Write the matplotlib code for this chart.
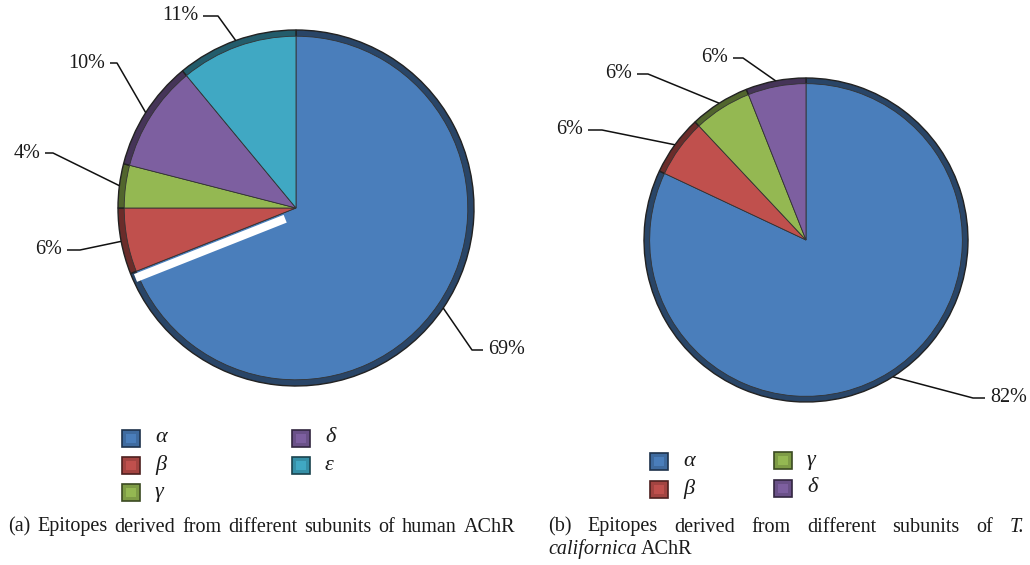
import numpy as np
import matplotlib
matplotlib.use("Agg")
import matplotlib.pyplot as plt
from matplotlib.patches import Rectangle

# epitope shares per subunit (%)
human_labels = ["α", "β", "γ", "δ", "ε"]
human_values = [69, 6, 4, 10, 11]
torpedo_labels = ["α", "β", "γ", "δ"]
torpedo_values = [82, 6, 6, 6]

colors = {"α": "#4a7ebb", "β": "#c0504d", "γ": "#94b852",
          "δ": "#7d5fa0", "ε": "#40a8c3"}

SERIF = "Liberation Serif"

fig = plt.figure(figsize=(10.3, 5.65), dpi=100)
ax = fig.add_axes([0, 0, 1, 1])


def set_frame():
    # pixel-like coordinates, y downwards
    ax.set_xlim(0, 1030)
    ax.set_ylim(565, 0)
    ax.set_aspect("equal", adjustable="box")
    ax.axis("off")


def shade(hexcol, f):
    c = np.array(matplotlib.colors.to_rgb(hexcol))
    return tuple(np.clip(c * f, 0, 1))


def draw_pie(labels, values, center, radius):
    cols = [colors[l] for l in labels]
    # darker rim underneath, then the face
    ax.pie(values, colors=[shade(c, 0.55) for c in cols], startangle=-90,
           counterclock=True, center=center, radius=radius,
           wedgeprops=dict(edgecolor="#222222", linewidth=1.0))
    ax.pie(values, colors=cols, startangle=-90, counterclock=True,
           center=center, radius=radius * 0.965,
           wedgeprops=dict(edgecolor="#333333", linewidth=0.6))
    fr = np.cumsum([0] + list(values)) / float(sum(values))
    mids = -90 + 360 * (fr[:-1] + fr[1:]) / 2
    ends = -90 + 360 * fr[1:]
    return np.radians(mids), np.radians(ends)


def leader(center, radius, phi, elbow, end, text, ha):
    cx, cy = center
    ax_pt = (cx + radius * np.cos(phi), cy + radius * np.sin(phi))
    ax.plot([ax_pt[0], elbow[0], end[0]], [ax_pt[1], elbow[1], end[1]],
            color="#111111", lw=1.1, solid_capstyle="butt")
    tx = end[0] + (5 if ha == "left" else -5)
    ax.text(tx, end[1], text, ha=ha, va="center", family=SERIF,
            fontsize=14.5, color="#1a1a1a")


# (a) human AChR
c1, r1 = (296, 208), 178
mids1, ends1 = draw_pie(human_labels, human_values, c1, r1)
# light strip along the closing edge of the alpha slice
a = ends1[0]
u = np.array([np.cos(a), np.sin(a)])
n = np.array([np.sin(a), -np.cos(a)])
p0 = np.array(c1) + 14 * u + 6 * n
p1 = np.array(c1) + (r1 - 3) * u + 6 * n
ax.plot([p0[0], p1[0]], [p0[1], p1[1]], color="white", lw=6,
        solid_capstyle="butt")

lead1 = {
    "α": ((472, 350), (483, 350), "left"),
    "β": ((80, 250), (67, 250), "right"),
    "γ": ((53, 153), (45, 153), "right"),
    "δ": ((117, 63), (110, 63), "right"),
    "ε": ((218, 16), (203, 16), "right"),
}
for lab, val, phi in zip(human_labels, human_values, mids1):
    elbow, end, ha = lead1[lab]
    leader(c1, r1, phi, elbow, end, f"{val}%", ha)

# (b) T. californica AChR
c2, r2 = (806, 240), 162
mids2, ends2 = draw_pie(torpedo_labels, torpedo_values, c2, r2)
lead2 = {
    "α": ((973, 398), (985, 398), "left"),
    "β": ((602, 130), (588, 130), "right"),
    "γ": ((648, 74), (637, 74), "right"),
    "δ": ((743, 58), (733, 58), "right"),
}
for lab, val, phi in zip(torpedo_labels, torpedo_values, mids2):
    elbow, end, ha = lead2[lab]
    leader(c2, r2, phi, elbow, end, f"{val}%", ha)


def legend_item(x, y, lab):
    col = colors[lab]
    ax.add_patch(Rectangle((x, y), 18, 17, facecolor=shade(col, 0.85),
                           edgecolor=shade(col, 0.4), lw=1.2))
    ax.add_patch(Rectangle((x + 4, y + 4), 10, 9, facecolor=col,
                           edgecolor="none"))
    ax.text(x + 33, y + 8, lab, ha="left", va="center", family=SERIF,
            style="italic", fontsize=16, color="#1a1a1a")


for lab, (x, y) in zip(human_labels, [(122, 430), (122, 457), (122, 484),
                                      (292, 430), (292, 457)]):
    legend_item(x, y, lab)
for lab, (x, y) in zip(torpedo_labels, [(650, 453), (650, 481),
                                        (774, 452), (774, 480)]):
    legend_item(x, y, lab)

set_frame()

# captions
cap_kw = dict(family=SERIF, fontsize=14.5, color="#1a1a1a", va="center")
fig.canvas.draw()
rend = fig.canvas.get_renderer()


def justify(words, y, x_left, x_right, italic=()):
    arts = [ax.text(0, y, w, ha="left",
                    style="italic" if w in italic else "normal", **cap_kw)
            for w in words]
    widths = [t.get_window_extent(rend).width for t in arts]
    gap = (x_right - x_left - sum(widths)) / (len(words) - 1)
    x = x_left
    for t, w in zip(arts, widths):
        t.set_x(x)
        x += w + gap


justify(["(a)", "Epitopes", "derived", "from", "different", "subunits",
         "of", "human", "AChR"], 527, 8, 515)
justify(["(b)", "Epitopes", "derived", "from", "different", "subunits",
         "of", "T."], 527, 548, 1024, italic=("T.",))

t2 = ax.text(548, 549, "californica", ha="left", style="italic", **cap_kw)
w2 = t2.get_window_extent(rend).width
ax.text(548 + w2 + 4, 549, "AChR", ha="left", **cap_kw)

fig.savefig("out.png", dpi=100)
